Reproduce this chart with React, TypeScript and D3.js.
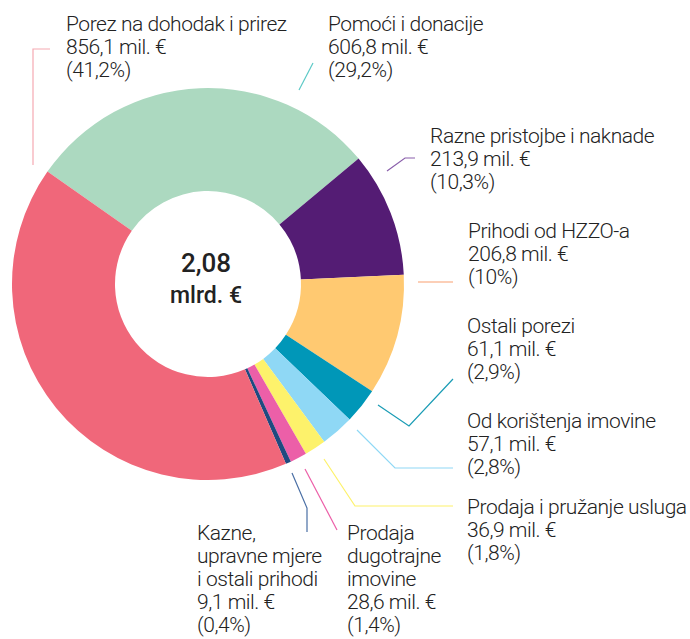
import React from "react";
import * as d3 from "d3";

const categories = [
  "Pomoći i donacije",
  "Razne pristojbe i naknade",
  "Prihodi od HZZO-a",
  "Ostali porezi",
  "Od korištenja imovine",
  "Prodaja i pružanje usluga",
  "Prodaja dugotrajne imovine",
  "Kazne, upravne mjere i ostali prihodi",
  "Porez na dohodak i prirez",
];
const values = [606.8, 213.9, 206.8, 61.1, 57.1, 36.9, 28.6, 9.1, 856.1];
const valueLabels = ["606,8", "213,9", "206,8", "61,1", "57,1", "36,9", "28,6", "9,1", "856,1"];
const percentLabels = ["29,2%", "10,3%", "10%", "2,9%", "2,8%", "1,8%", "1,4%", "0,4%", "41,2%"];
const nameLines = [
  ["Pomoći i donacije"],
  ["Razne pristojbe i naknade"],
  ["Prihodi od HZZO-a"],
  ["Ostali porezi"],
  ["Od korištenja imovine"],
  ["Prodaja i pružanje  usluga"],
  ["Prodaja", "dugotrajne", "imovine"],
  ["Kazne,", "upravne mjere", "i ostali prihodi"],
  ["Porez na dohodak i prirez"],
];
const totalLabel = ["2,08", "mlrd. €"];

const colors = ["#acd9c0", "#541c74", "#ffc971", "#0097b8", "#8fd8f5", "#fdf26b", "#ec5fa8", "#1f4a80", "#f0677a"];
const leaderColors = ["#5cc9c6", "#8a5fab", "#f9a070", "#1a9cb5", "#8fd8f5", "#fdf26b", "#ec5fa8", "#4a6fa5", "#f6a9b2"];

// label layout: text x, first baseline, leader polyline
const labelPos: [number, number][] = [
  [328, 31], [430, 143], [468, 238], [467, 333], [467, 428], [467, 514], [347, 540], [197, 540], [66, 31],
];
const leaders: [number, number][][] = [
  [[299, 90], [313, 63]],
  [[387, 171], [405, 158], [415, 158]],
  [[418, 282], [453, 282]],
  [[378, 405], [409, 426], [453, 379]],
  [[357, 430], [395, 468], [453, 468]],
  [[324, 459], [355, 506], [453, 506]],
  [[305, 469], [337, 530]],
  [[292, 473], [307, 508], [307, 532]],
  [[50, 49], [33, 49], [33, 165]],
];

const W = 690, H = 639;
const cx = 208, cy = 284, R = 196, r = 93;
const FONT = "Roboto, 'Noto Sans', sans-serif";

export default function App() {
  const pie = d3.pie<number>().sort(null).value((d) => d)
    .startAngle((-55 * Math.PI) / 180).endAngle((305 * Math.PI) / 180);
  const arcs = pie(values);
  const arc = d3.arc<d3.PieArcDatum<number>>().innerRadius(r).outerRadius(R);
  const line = d3.line();
  const LH = 23;
  return (
    <svg width={W} height={H} style={{ position: "absolute", left: 0, top: 0 }}>
      <rect width={W} height={H} fill="#fff" />
      <g transform={`translate(${cx},${cy})`}>
        {arcs.map((a, i) => (
          <path key={i} d={arc(a) || ""} fill={colors[i]} />
        ))}
        <text x={-2} y={-12} textAnchor="middle" fontFamily={FONT} fontSize={26} fontWeight={500} fill="#222">{totalLabel[0]}</text>
        <text x={-2} y={19} textAnchor="middle" fontFamily={FONT} fontSize={23} fontWeight={500} fill="#222">{totalLabel[1]}</text>
      </g>
      {leaders.map((pts, i) => (
        <path key={i} d={line(pts) || ""} fill="none" stroke={leaderColors[i]} strokeWidth={1.2} />
      ))}
      {categories.map((c, i) => {
        const lines = [...nameLines[i], `${valueLabels[i]} mil. €`, `(${percentLabels[i]})`];
        return (
          <text key={c} fontFamily={FONT} fontSize={21} letterSpacing={-0.45} fontWeight={300} fill="#222">
            {lines.map((t, j) => (
              <tspan key={j} x={labelPos[i][0]} y={labelPos[i][1] + j * LH}>{t}</tspan>
            ))}
          </text>
        );
      })}
    </svg>
  );
}
